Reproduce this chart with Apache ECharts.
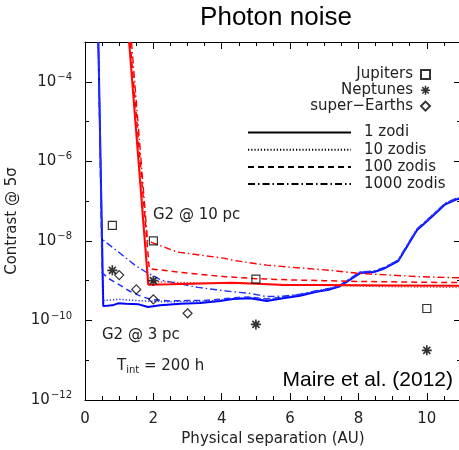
<!DOCTYPE html>
<html>
<head>
<meta charset="utf-8">
<script src="https://cdn.jsdelivr.net/npm/echarts@6/dist/echarts.min.js"></script>
<style>
  html, body { margin: 0; padding: 0; background: #fff; }
  #chart { width: 459px; height: 450px; }
</style>
</head>
<body>
<div id="chart"></div>
<script>
// Each point: [physical separation (AU), log10(contrast at 5 sigma)]
const blue1zodi = [[0.39,-3.0],[0.535,-9.64],[0.8,-9.62],[0.97,-9.57],[1.2,-9.58],[1.55,-9.59],[1.84,-9.66],[2.2,-9.62],[2.8,-9.58],[3.37,-9.56],[3.95,-9.51],[4.33,-9.46],[4.83,-9.44],[5.32,-9.51],[5.79,-9.44],[6.29,-9.38],[6.78,-9.28],[7.17,-9.22],[7.46,-9.14],[8.05,-8.81],[8.43,-8.79],[8.72,-8.71],[9.16,-8.51],[9.71,-7.73],[10.1,-7.43],[10.54,-7.08],[10.89,-6.95],[11,-6.94]];
const blue10zodi = [[0.39,-3.0],[0.52,-9.5],[1.0,-9.47],[1.5,-9.5],[2.0,-9.52],[2.5,-9.53],[3.0,-9.52],[3.5,-9.52],[4.0,-9.48],[4.5,-9.44],[4.83,-9.42],[5.32,-9.48],[5.79,-9.42],[6.29,-9.36],[6.78,-9.27],[7.17,-9.21],[7.46,-9.13],[8.05,-8.8],[8.43,-8.78],[8.72,-8.7],[9.16,-8.5],[9.71,-7.72],[10.1,-7.42],[10.54,-7.07],[10.89,-6.94],[11,-6.93]];
const blue100zodi = [[0.39,-3.0],[0.5,-8.8],[0.7,-8.95],[1.0,-9.1],[1.3,-9.26],[1.65,-9.4],[2.0,-9.48],[2.5,-9.51],[3.0,-9.5],[3.5,-9.5],[4.0,-9.46],[4.5,-9.42],[4.83,-9.41],[5.32,-9.46],[5.79,-9.41],[6.29,-9.35],[6.78,-9.26],[7.17,-9.2],[7.46,-9.12],[8.05,-8.79],[8.43,-8.77],[8.72,-8.69],[9.16,-8.49],[9.71,-7.71],[10.1,-7.41],[10.54,-7.06],[10.89,-6.93],[11,-6.92]];
const blue1000zodi = [[0.39,-3.0],[0.5,-7.95],[0.59,-8.02],[0.98,-8.28],[1.46,-8.61],[1.76,-8.77],[2.24,-8.99],[2.72,-9.07],[3.31,-9.17],[3.85,-9.23],[4.34,-9.28],[4.83,-9.32],[5.3,-9.4],[5.79,-9.39],[6.29,-9.34],[6.78,-9.25],[7.17,-9.19],[7.46,-9.11],[8.05,-8.78],[8.43,-8.76],[8.72,-8.68],[9.16,-8.48],[9.71,-7.7],[10.1,-7.4],[10.54,-7.05],[10.89,-6.92],[11,-6.91]];
const red1zodi = [[1.29,-3.0],[1.85,-9.1],[2.5,-9.09],[3.4,-9.07],[4.3,-9.05],[4.9,-9.07],[5.8,-9.11],[7.0,-9.11],[9.0,-9.12],[11,-9.13]];
const red10zodi = [[1.3,-3.0],[1.86,-9.02],[2.5,-9.04],[3.5,-9.06],[5.0,-9.08],[7.0,-9.12],[9.0,-9.15],[11,-9.17]];
const red100zodi = [[1.32,-3.0],[1.88,-8.7],[2.0,-8.71],[2.5,-8.76],[3.0,-8.81],[4.1,-8.9],[5.0,-8.95],[6.0,-8.98],[7.0,-9.0],[8.0,-9.02],[9.0,-9.03],[10,-9.04],[11,-9.05]];
const red1000zodi = [[1.36,-3.0],[1.83,-8.0],[2.05,-8.07],[2.7,-8.28],[3.4,-8.36],[4.1,-8.44],[4.34,-8.49],[5.32,-8.61],[6.29,-8.68],[7.17,-8.74],[8.05,-8.82],[9.8,-8.9],[11,-8.93]];
const jupiters = [[0.8,-7.61],[2,-8.0],[5,-8.96],[10,-9.7]];
const neptunes = [[0.8,-8.74],[2,-9.0],[5,-10.1],[10,-10.75]];
const superEarths = [[1,-8.86],[1.5,-9.22],[2,-9.47],[3,-9.82]];
const zodiNames = ['1 zodi','10 zodis','100 zodis','1000 zodis'];
const planetNames = ['Jupiters','Neptunes','super\u2212Earths'];
const xTicks = [0,2,4,6,8,10];

const toPts = arr => arr.map(p => [p[0], Math.pow(10, p[1])]);
const FONT = 'DejaVu Sans';
const FW = 'normal';
const dashTypes = ['solid', [1.2, 2], [6, 4], [7, 3, 1.5, 3]];
const widths = [2, 1.5, 1.5, 1.4];

const asterisk = 'path://M-1.7,-10L1.7,-10L1.7,10L-1.7,10Z M-10,-1.7L10,-1.7L10,1.7L-10,1.7Z M-8.3,-5.9L-5.9,-8.3L8.3,5.9L5.9,8.3Z M5.9,-8.3L8.3,-5.9L-5.9,8.3L-8.3,5.9Z';

function curve(name, data, color, k) {
  return {
    name: name, type: 'line', data: toPts(data), xAxisIndex: 0, yAxisIndex: 0,
    symbol: 'none', silent: true, animation: false, z: 2,
    lineStyle: { color: color, width: widths[k], type: dashTypes[k] }
  };
}

const series = [
  curve('b1', blue1zodi, '#0000ff', 0),
  curve('b10', blue10zodi, '#2030ff', 1),
  curve('b100', blue100zodi, '#2030ff', 2),
  curve('b1000', blue1000zodi, '#2030ff', 3),
  curve('r1', red1zodi, '#ff0000', 0),
  curve('r10', red10zodi, '#ff2020', 1),
  curve('r100', red100zodi, '#ff0000', 2),
  curve('r1000', red1000zodi, '#ff0000', 3)
];
zodiNames.forEach((n, k) => series.push({
  name: n, type: 'line', data: [], symbol: 'none', color: '#000',
  lineStyle: { color: '#000', width: 1.2, type: dashTypes[k] }
}));
const markerStyle = { color: 'rgba(0,0,0,0)', borderColor: '#000', borderWidth: 1.2 };
series.push({ name: planetNames[0], type: 'scatter', data: toPts(jupiters), symbol: 'rect', symbolSize: 8, itemStyle: markerStyle, z: 5, animation: false });
series.push({ name: planetNames[1], type: 'scatter', data: toPts(neptunes), symbol: asterisk, symbolSize: 10, itemStyle: { color: '#000' }, z: 5, animation: false });
series.push({ name: planetNames[2], type: 'scatter', data: toPts(superEarths), symbol: 'diamond', symbolSize: 9, itemStyle: markerStyle, z: 5, animation: false });

const axisCommon = { show: true, lineStyle: { color: '#000', width: 1 } };
function xAx(pos, labels) {
  return {
    type: 'value', position: pos, min: 0, max: 11, interval: 2,
    axisLine: axisCommon, splitLine: { show: false },
    axisTick: { show: true, inside: true, length: 7, lineStyle: { color: '#000' } },
    minorTick: { show: true, splitNumber: 4, length: 4, lineStyle: { color: '#000' } },
    axisLabel: labels ? { show: true, fontFamily: FONT, fontWeight: FW, fontSize: 15, color: '#222', margin: 12,
      formatter: v => (xTicks.indexOf(v) >= 0 ? String(v) : '') } : { show: false },
    name: labels ? 'Physical separation (AU)' : '', nameLocation: 'middle', nameGap: 32,
    nameTextStyle: { fontFamily: FONT, fontWeight: FW, fontSize: 15, color: '#222' }
  };
}
function yAx(pos, major, labels, line) {
  return {
    type: 'log', logBase: 10, position: pos, min: 1e-12, max: 1e-3, interval: major ? 2 : 1,
    axisLine: line ? axisCommon : { show: false }, splitLine: { show: false },
    axisTick: { show: true, inside: true, length: major ? 7 : 4, lineStyle: { color: '#000' } },
    axisLabel: labels ? {
      show: true, margin: 13, color: '#222', fontFamily: FONT, fontWeight: FW, fontSize: 15,
      formatter: v => { const e = Math.round(Math.log10(v)); return (e % 2 === 0 && e <= -4) ? '10{s|\u2212' + (-e) + '}' : ''; },
      rich: { s: { fontFamily: FONT, fontWeight: FW, fontSize: 10, color: '#222', padding: [0, 0, 9, 1] } }
    } : { show: false },
    name: labels ? 'Contrast @ 5\u03c3' : '', nameLocation: 'middle', nameGap: 60,
    nameTextStyle: { fontFamily: FONT, fontWeight: FW, fontSize: 15, color: '#222' }
  };
}

const hiddenSymbol = { color: 'rgba(0,0,0,0)', borderWidth: 0, opacity: 0 };

const option = {
  backgroundColor: '#fff',
  animation: false,
  grid: { left: 85, top: 42, width: 376, height: 358, containLabel: false, outerBoundsMode: 'none' },
  xAxis: [xAx('bottom', true), xAx('top', false)],
  yAxis: [yAx('left', true, true, true), yAx('left', false, false, false), yAx('right', true, false, true), yAx('right', false, false, false)],
  legend: [
    { data: planetNames, orient: 'vertical', right: 23, top: 62, align: 'right', selectedMode: false,
      itemWidth: 9, itemHeight: 9, itemGap: 0.8,
      textStyle: { fontFamily: FONT, fontWeight: FW, fontSize: 15, color: '#222', padding: [0, 3, 0, 0] } },
    { data: zodiNames.map(n => ({ name: n, itemStyle: hiddenSymbol })), orient: 'vertical', left: 242, top: 120, selectedMode: false,
      itemWidth: 103, itemHeight: 14, itemGap: 2.2, itemStyle: hiddenSymbol,
      textStyle: { fontFamily: FONT, fontWeight: FW, fontSize: 15, color: '#222', padding: [0, 0, 0, 8] } }
  ],
  graphic: [
    { type: 'text', style: { x: 276, y: 18, text: 'Photon noise', fontFamily: 'Liberation Sans', fontSize: 26, fill: '#000', textAlign: 'center', textVerticalAlign: 'middle' } },
    { type: 'text', style: { x: 153, y: 215, text: 'G2 @ 10 pc', fontFamily: FONT, fontWeight: FW, fontSize: 15, fill: '#222', textVerticalAlign: 'middle' } },
    { type: 'text', style: { x: 102, y: 335, text: 'G2 @ 3 pc', fontFamily: FONT, fontWeight: FW, fontSize: 15, fill: '#222', textVerticalAlign: 'middle' } },
    { type: 'text', style: { x: 117, y: 366, text: 'T{sub|int} = 200 h', fontFamily: FONT, fontWeight: FW, fontSize: 15, fill: '#222', textVerticalAlign: 'middle',
      rich: { sub: { fontFamily: FONT, fontWeight: FW, fontSize: 10, fill: '#222', padding: [8, 0, 0, 0] } } } },
    { type: 'text', style: { x: 453, y: 380, text: 'Maire et al. (2012)', fontFamily: 'Liberation Sans', fontSize: 21, fill: '#000', textAlign: 'right', textVerticalAlign: 'middle' } }
  ],
  series: series
};

const chart = echarts.init(document.getElementById('chart'), null, { renderer: 'canvas' });
chart.setOption(option);
</script>
</body>
</html>
